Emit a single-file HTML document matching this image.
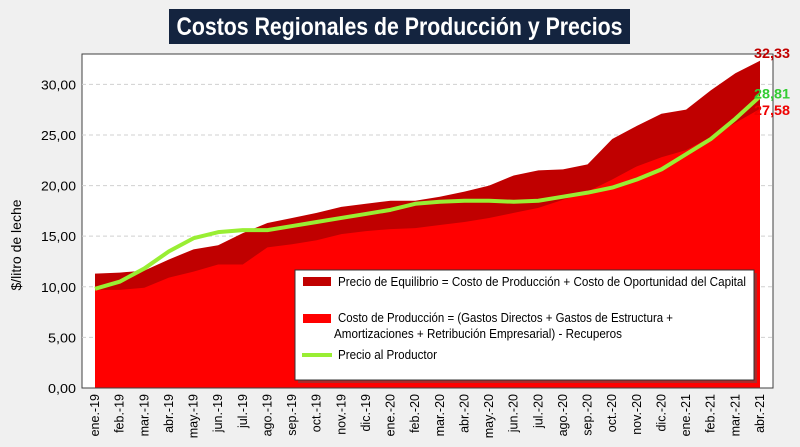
<!DOCTYPE html>
<html><head><meta charset="utf-8"><style>
html,body{margin:0;padding:0}
body{width:800px;height:447px;background:#f0f0f0;font-family:"Liberation Sans",sans-serif;overflow:hidden;position:relative}
svg{position:absolute;left:0;top:0}
</style></head><body>
<svg id="chart" width="800" height="447">
<rect x="169" y="9" width="461" height="35" fill="#14243f"/>
<text x="399.5" y="35" text-anchor="middle" font-size="25" font-weight="bold" fill="#fff" textLength="446" lengthAdjust="spacingAndGlyphs">Costos Regionales de Producción y Precios</text>
</svg>
<script>
const months=["ene.-19","feb.-19","mar.-19","abr.-19","may.-19","jun.-19","jul.-19","ago.-19","sep.-19","oct.-19","nov.-19","dic.-19","ene.-20","feb.-20","mar.-20","abr.-20","may.-20","jun.-20","jul.-20","ago.-20","sep.-20","oct.-20","nov.-20","dic.-20","ene.-21","feb.-21","mar.-21","abr.-21"];
const equilibrio=[11.3,11.4,11.6,12.7,13.7,14.1,15.3,16.3,16.8,17.3,17.9,18.2,18.5,18.5,18.9,19.4,20.0,21.0,21.5,21.6,22.1,24.6,25.9,27.1,27.5,29.4,31.1,32.33];
const costo=[9.7,9.7,9.9,10.9,11.5,12.2,12.2,13.9,14.2,14.6,15.2,15.5,15.7,15.8,16.1,16.4,16.8,17.3,17.8,18.6,19.4,20.6,21.9,22.8,23.5,24.8,26.2,27.58];
const precio=[9.8,10.5,11.8,13.5,14.8,15.4,15.6,15.6,16.0,16.4,16.8,17.2,17.6,18.2,18.4,18.5,18.5,18.4,18.5,18.9,19.3,19.8,20.6,21.6,23.1,24.6,26.6,28.81];
const yTicks=[0,5,10,15,20,25,30];
const yTickLabels=["0,00","5,00","10,00","15,00","20,00","25,00","30,00"];
const endLabels=["32,33","28,81","27,58"];

const svg=document.getElementById('chart');
const NS='http://www.w3.org/2000/svg';
const L=82,R=773,T=54,B=388,YMAX=33;
const x0=95,x1=760;
const X=i=>x0+i*(x1-x0)/(months.length-1);
const Y=v=>B-v*(B-T)/YMAX;
function mk(tag,attrs,parent){const e=document.createElementNS(NS,tag);for(const k in attrs)e.setAttribute(k,attrs[k]);(parent||svg).appendChild(e);return e;}

const plot=mk('rect',{x:L,y:T,width:R-L,height:B-T,fill:'#fff',stroke:'#404040','stroke-width':1});



yTicks.forEach((v,i)=>{
  if(v>0){const g=mk('line',{x1:L,x2:R,y1:Y(v),y2:Y(v),stroke:'#d0d0d0','stroke-dasharray':'4,3'});
  
  }
  const t=mk('text',{x:L-6,y:Y(v)+5,'text-anchor':'end','font-size':13,fill:'#000',textLength:yTickLabels[i].length*7,lengthAdjust:'spacingAndGlyphs'});
  t.textContent=yTickLabels[i];
  
  
});

function areaPath(arr){let d='M'+X(0)+','+B;arr.forEach((v,i)=>d+=' L'+X(i)+','+Y(v));d+=' L'+X(arr.length-1)+','+B+' Z';return d;}
const a1=mk('path',{d:areaPath(equilibrio),fill:'#c00000'});


const a2=mk('path',{d:areaPath(costo),fill:'#ff0000'});


const ln=mk('polyline',{points:precio.map((v,i)=>X(i)+','+Y(v)).join(' '),fill:'none',stroke:'#99ee33','stroke-width':4,'stroke-linejoin':'round'});



const ax=mk('line',{x1:L,x2:R,y1:B,y2:B,stroke:'#404040'});



months.forEach((m,i)=>{
  const t=mk('text',{x:0,y:0,'text-anchor':'end','font-size':12.5,fill:'#000',transform:`translate(${X(i)+4},${B+6}) rotate(-90)`});
  t.textContent=m;
  
  
});

const yl=mk('text',{x:0,y:0,'text-anchor':'middle','font-size':14,fill:'#000',transform:'translate(21,245) rotate(-90)'});
yl.textContent='$/litro de leche';



const n=months.length-1;
const lbls=[[equilibrio[n],'#c00000',endLabels[0]],[precio[n],'#33cc33',endLabels[1]],[costo[n],'#ee0000',endLabels[2]]];
lbls.forEach(([v,c,s],k)=>{
  const t=mk('text',{x:790,y:Y(v)+(k===0?-3:k===1?2:6),'text-anchor':'end','font-size':14,'font-weight':'bold',fill:c,textLength:36,lengthAdjust:'spacingAndGlyphs'});
  t.textContent=s;
  
  
});

const lg=mk('g',{});


mk('rect',{x:298,y:273,width:459,height:110,fill:'#555',opacity:0.5},lg);
mk('rect',{x:295,y:270,width:459,height:110,fill:'#fff',stroke:'#333'},lg);
const e1=mk('rect',{x:303,y:277,width:28,height:9,fill:'#c00000'},lg);


const e2=mk('rect',{x:303,y:314,width:28,height:9,fill:'#ff0000'},lg);


const e3=mk('line',{x1:302,x2:332,y1:355,y2:355,stroke:'#99ee33','stroke-width':4},lg);


[["Precio de Equilibrio = Costo de Producción + Costo de Oportunidad del Capital",338,286,408],["Costo de Producción = (Gastos Directos + Gastos de Estructura +",338,322,335],["Amortizaciones + Retribución Empresarial) - Recuperos",334,338,288],["Precio al Productor",338,359,99]].forEach(([s,x,y,w])=>{
  const t=mk('text',{x:x,y:y,'font-size':13,fill:'#000',textLength:w,lengthAdjust:'spacingAndGlyphs'},lg);
  t.textContent=s;
  
  
});
</script>
</body></html>
